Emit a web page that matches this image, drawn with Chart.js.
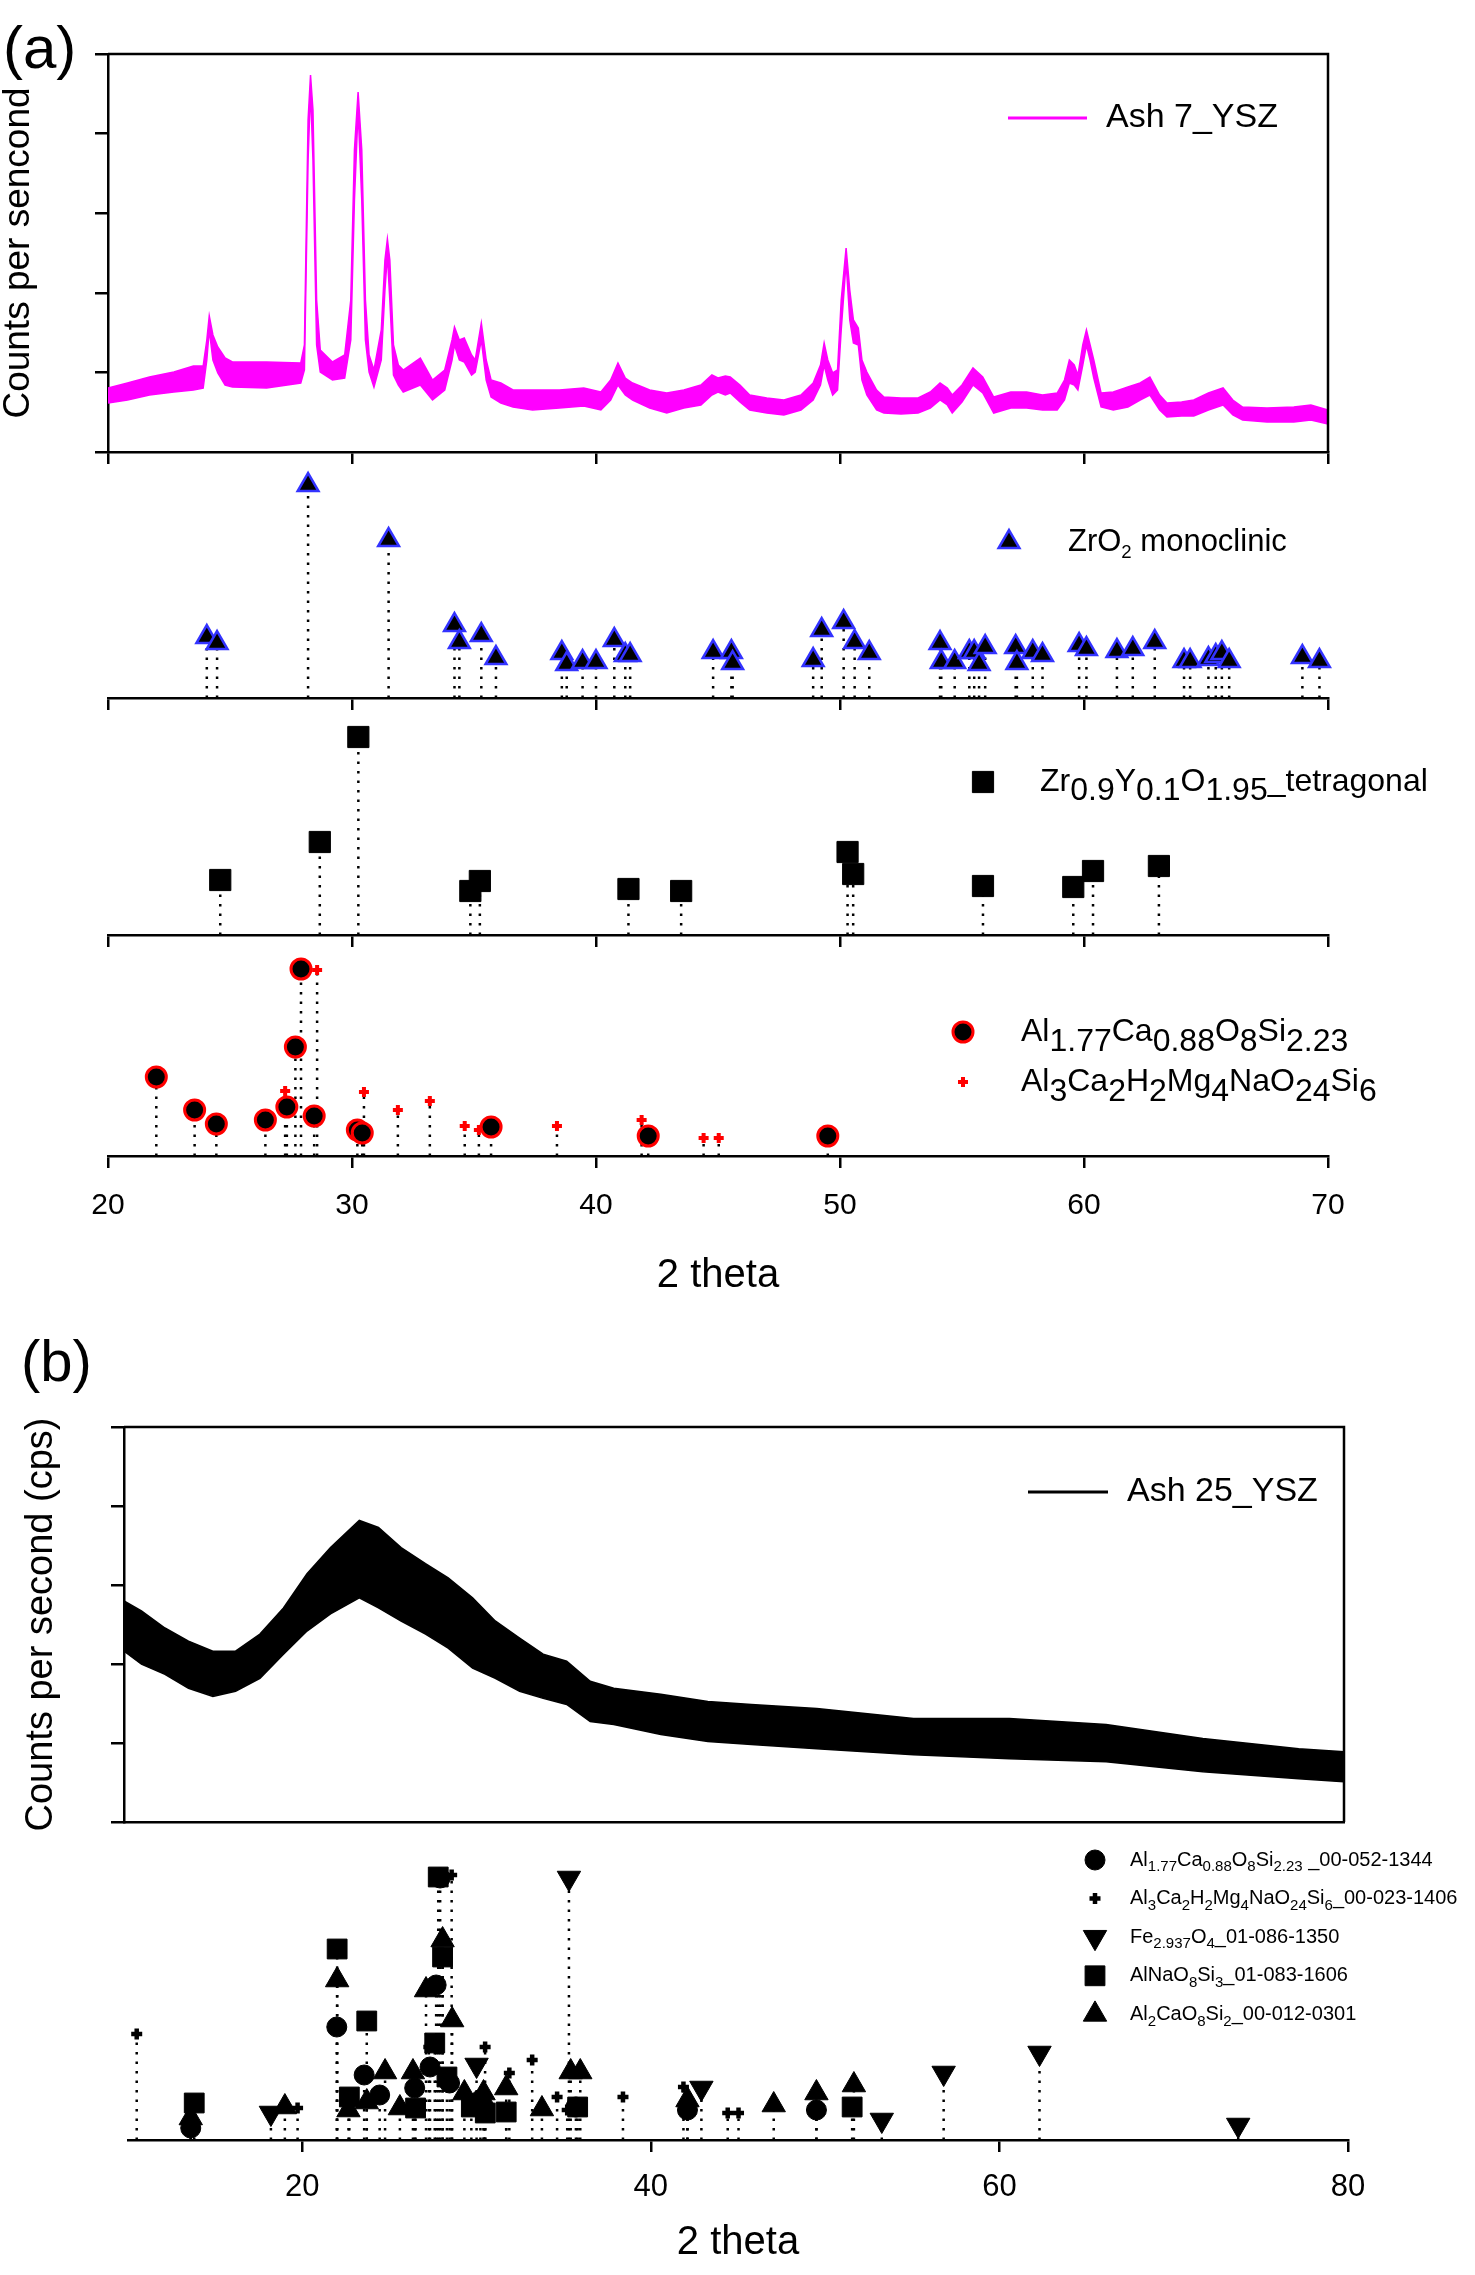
<!DOCTYPE html>
<html>
<head>
<meta charset="utf-8">
<script src="https://cdn.jsdelivr.net/npm/chart.js@4.4.1/dist/chart.umd.min.js"></script>
<style>
  body { margin: 0; background: #fff; }
  #page { position: relative; width: 1475px; height: 2275px; overflow: hidden; font-family: "Liberation Sans", Arial, sans-serif; }
  #page canvas { position: absolute; left: 0; }
  .tag { position: absolute; font-size: 60px; line-height: 60px; color: #000; }
</style>
</head>
<body>
<div id="page">
  <div class="tag" style="left:3px;top:18px">(a)</div>
  <div class="tag" style="left:21px;top:1331px;font-size:58px">(b)</div>
  <canvas id="a1" width="1475" height="520" style="top:0px"></canvas>
  <canvas id="a2" width="1475" height="260" style="top:460px"></canvas>
  <canvas id="a3" width="1475" height="237" style="top:720px"></canvas>
  <canvas id="a4" width="1475" height="365" style="top:935px"></canvas>
  <canvas id="b1" width="1475" height="520" style="top:1320px"></canvas>
  <canvas id="b2" width="1475" height="427" style="top:1840px"></canvas>
</div>
<script>
// ---- (a) Ash 7_YSZ scan: 2 theta and upper / lower edge of the noisy trace (cps, arbitrary)
const ash7Theta = [20.0, 20.8, 21.7, 22.7, 23.5, 23.9, 24.05, 24.15, 24.3, 24.5, 24.8, 25.1, 26.5, 27.9, 28.05, 28.2, 28.3, 28.4, 28.55, 28.7,
  29.2, 29.7, 29.95, 30.1, 30.25, 30.4, 30.55, 30.7, 30.9, 31.2, 31.35, 31.45, 31.55, 31.7, 31.9, 32.1, 32.8, 33.3, 33.8, 34.1,
  34.2, 34.4, 34.6, 34.9, 35.05, 35.3, 35.5, 35.7, 36.1, 36.6, 37.4, 38.5, 39.5, 40.2, 40.6, 40.9, 41.2, 41.5, 42.2, 42.9,
  43.6, 44.3, 44.75, 45.0, 45.3, 45.5, 45.9, 46.3, 47.0, 47.7, 48.4, 48.9, 49.2, 49.35, 49.5, 49.7, 49.9, 50.05, 50.25, 50.4,
  50.55, 50.75, 50.9, 51.1, 51.5, 51.8, 52.5, 53.2, 53.7, 54.1, 54.4, 54.6, 55.0, 55.45, 55.85, 56.3, 57.0, 57.65, 58.3, 58.9,
  59.2, 59.4, 59.6, 59.75, 59.95, 60.1, 60.25, 60.4, 60.7, 61.2, 61.8, 62.3, 62.7, 63.1, 63.4, 64.0, 64.5, 65.1, 65.7, 66.1,
  66.5, 67.5, 68.6, 69.3, 70.0];
const ash7High = [64, 69, 75, 80, 86, 86, 112, 136, 117, 105, 94, 90, 90, 89, 107, 332, 377, 342, 152, 102,
  90, 97, 152, 302, 360, 302, 152, 97, 82, 122, 192, 213, 192, 107, 87, 82, 94, 72, 82, 112,
  125, 112, 114, 97, 92, 129, 92, 72, 69, 62, 62, 62, 64, 60, 72, 89, 74, 69, 62, 59,
  62, 67, 77, 74, 76, 75, 67, 57, 54, 52, 57, 69, 87, 109, 92, 79, 82, 152, 204, 162,
  132, 124, 92, 80, 62, 55, 54, 54, 60, 69, 64, 57, 67, 84, 75, 55, 60, 60, 57, 59,
  72, 92, 87, 77, 107, 122, 107, 92, 59, 60, 65, 69, 75, 57, 49, 50, 52, 59, 64, 52,
  45, 44, 45, 47, 42];
const ash7Low = [49, 52, 57, 60, 62, 64, 92, 122, 92, 79, 67, 65, 64, 69, 82, 292, 362, 292, 107, 80,
  72, 74, 112, 252, 342, 252, 112, 80, 65, 92, 162, 197, 152, 77, 67, 60, 67, 52, 62, 92,
  107, 92, 90, 77, 80, 112, 72, 55, 49, 45, 42, 44, 46, 42, 52, 67, 57, 52, 44, 39,
  44, 47, 57, 60, 57, 59, 50, 42, 39, 37, 42, 52, 67, 87, 72, 57, 62, 122, 190, 132,
  109, 107, 72, 57, 42, 39, 38, 39, 44, 52, 47, 39, 50, 67, 59, 39, 44, 44, 42, 42,
  52, 69, 67, 62, 87, 107, 92, 74, 45, 42, 45, 52, 57, 42, 35, 36, 36, 42, 47, 37,
  32, 30, 30, 32, 28];

// ---- (a) reference patterns: peak position (2 theta) and relative intensity
const zro2Theta = [24.05, 24.47, 28.2, 31.5, 34.2, 34.4, 35.3, 35.9, 38.6, 38.8, 39.45, 40.0, 40.75, 41.2, 41.4, 44.8,
  45.55, 45.6, 48.9, 49.25, 50.15, 50.6, 51.2, 54.1, 54.15, 54.7, 55.3, 55.5, 55.7, 55.95, 57.2, 57.25,
  57.9, 58.3, 59.8, 60.1, 61.35, 62.0, 62.9, 64.1, 64.35, 65.1, 65.4, 65.65, 65.95, 68.95, 69.65];
const zro2Int = [61, 55, 213, 158, 73, 56, 63, 40, 45, 34, 36, 36, 58, 43, 43, 46,
  46, 35, 38, 68, 76, 56, 45, 55, 36, 36, 46, 46, 34, 51, 51, 35,
  46, 43, 53, 49, 47, 49, 56, 37, 37, 39, 42, 45, 37, 41, 37];
const tetraTheta = [24.6, 28.68, 30.26, 34.85, 35.24, 41.33, 43.49, 50.31, 50.54, 55.86, 59.56, 60.37, 63.07];
const tetraInt = [55, 93, 198, 44, 54, 46, 44, 83, 61, 49, 48, 64, 69];
const alCaTheta = [21.98, 23.55, 24.44, 26.45, 27.33, 27.68, 27.91, 28.45, 30.22, 30.42, 35.7, 42.14, 49.5];
const alCaInt = [79, 46, 32, 36, 49, 109, 187, 40, 26, 23, 29, 20, 20];
const alCaMgTheta = [27.26, 28.57, 30.49, 31.88, 33.19, 34.62, 35.2, 38.4, 41.87, 44.41, 45.03];
const alCaMgInt = [65, 186, 64, 46, 55, 30, 26, 30, 36, 18, 18];
const aTicks = [20, 30, 40, 50, 60, 70];

// ---- (b) Ash 25_YSZ scan
const ash25Theta = [10.0, 11.0, 12.35, 13.7, 15.1, 16.4, 17.8, 19.15, 20.5, 21.85, 23.5, 24.6, 25.9, 27.3, 28.6, 30.0,
  31.3, 32.7, 34.05, 35.4, 36.75, 38.1, 40.8, 43.5, 46.0, 49.75, 55.3, 60.8, 66.35, 71.9, 77.4, 80.0];
const ash25High = [220, 210, 193, 180, 170, 170, 187, 213, 247, 273, 300, 293, 273, 257, 243, 223,
  200, 183, 167, 160, 140, 133, 127, 120, 117, 113, 103, 103, 97, 83, 73, 70];
const ash25Low = [170, 157, 147, 133, 125, 130, 143, 167, 190, 207, 223, 213, 200, 187, 173, 153,
  143, 130, 123, 117, 100, 97, 87, 80, 77, 73, 67, 63, 60, 50, 43, 40];

// ---- (b) reference patterns
const bAlCaTheta = [13.6, 21.98, 23.55, 24.44, 26.45, 27.33, 27.68, 27.91, 28.45, 30.22, 30.42, 35.7, 42.1, 49.5];
const bAlCaInt = [12, 113, 65, 45, 52, 73, 155, 262, 57, 40, 33, 33, 30, 30];
const bAlCaMgTheta = [10.5, 19.73, 27.26, 28.57, 30.49, 31.88, 33.19, 34.62, 35.2, 38.4, 41.87, 44.41, 45.03];
const bAlCaMgInt = [106, 32, 93, 265, 93, 67, 80, 43, 30, 43, 53, 27, 27];
const bFeTheta = [18.2, 30.0, 35.3, 42.9, 53.25, 56.8, 62.3, 73.7];
const bFeInt = [27, 75, 262, 52, 20, 67, 87, 15];
const bAlNaTheta = [13.8, 22.0, 22.7, 23.7, 26.5, 27.6, 27.8, 28.05, 28.3, 29.7, 30.5, 31.7, 35.8, 51.55];
const bAlNaInt = [37, 191, 43, 119, 32, 97, 263, 183, 63, 33, 27, 28, 33, 33];
const bAl2CaTheta = [13.6, 19.0, 22.0, 22.65, 23.7, 24.75, 25.6, 26.35, 27.1, 28.05, 28.6, 29.3, 30.4, 31.7,
  33.75, 35.4, 35.95, 42.1, 47.05, 49.5, 51.65];
const bAl2CaInt = [22, 33, 160, 30, 38, 68, 32, 68, 150, 200, 120, 47, 47, 52, 31, 68, 68, 40, 35, 47, 55];
const bTicks = [20, 40, 60, 80];

const FONT = '"Liberation Sans", Arial, sans-serif';
Chart.defaults.font.family = FONT;
Chart.defaults.color = '#000';

// is a condensed face around for the (b) x title?
function hasNarrow() {
  const c = document.createElement('canvas').getContext('2d');
  c.font = '48px "Liberation Sans Narrow", monospace';
  const w = c.measureText('2 theta').width;
  c.font = '48px monospace';
  return Math.abs(w - c.measureText('2 theta').width) > 1;
}
const narrow = hasNarrow();

const pts = (xs, ys) => xs.map((x, i) => ({x: x, y: ys[i]}));

// vertical dotted stick from 0 to the peak, gaps between sticks
function stems(xs, ys) {
  const out = [];
  xs.forEach((x, i) => { out.push({x: x, y: 0}, {x: x, y: ys[i]}, {x: x, y: null}); });
  return out;
}

function phase(label, xs, ys, marker) {
  return [
    Object.assign({label: label, data: pts(xs, ys), showLine: false, clip: false, order: 0}, marker),
    {label: label, data: stems(xs, ys), showLine: true, pointRadius: 0, borderColor: '#000', borderWidth: 2.5,
      borderDash: [2.5, 7], spanGaps: false, clip: false, order: 1}
  ];
}

// text with _{...} subscripts
function drawFormula(ctx, text, x, y, size, subScale, subShift) {
  ctx.textBaseline = 'middle';
  ctx.textAlign = 'left';
  ctx.fillStyle = '#000';
  text.split(/(_\{[^}]*\})/).forEach(p => {
    if (!p) return;
    const sub = p.startsWith('_{');
    const s = sub ? p.slice(2, -1) : p;
    ctx.font = (sub ? size * subScale : size) + 'px ' + FONT;
    ctx.fillText(s, x, sub ? y + subShift : y);
    x += ctx.measureText(s).width;
  });
}

const formulaLegend = {
  id: 'formulaLegend',
  afterDatasetsDraw(chart, args, o) {
    if (!o.items) return;
    const ctx = chart.ctx;
    o.items.forEach((idx, row) => {
      const ds = chart.data.datasets[idx];
      const y = o.y + row * (o.gap || 0);
      ctx.save();
      if (o.line) {
        ctx.strokeStyle = ds.borderColor;
        ctx.lineWidth = 3;
        ctx.beginPath();
        ctx.moveTo(o.x, y);
        ctx.lineTo(o.x + o.line, y);
        ctx.stroke();
      } else {
        ctx.fillStyle = ds.backgroundColor;
        ctx.strokeStyle = ds.borderColor;
        ctx.lineWidth = ds.borderWidth;
        Chart.helpers.drawPoint(ctx, {pointStyle: ds.pointStyle, radius: ds.pointRadius,
          borderWidth: ds.borderWidth, rotation: ds.pointRotation || 0}, o.x, y);
      }
      drawFormula(ctx, ds.label, o.textX, y, o.size, o.subScale || 1, o.subShift || 0);
      ctx.restore();
    });
  }
};

// top and right edges of the plot box
const boxFrame = {
  id: 'boxFrame',
  afterDraw(chart, args, o) {
    if (!o.show) return;
    const a = chart.chartArea, ctx = chart.ctx;
    ctx.save();
    ctx.strokeStyle = '#000';
    ctx.lineWidth = 2.5;
    ctx.beginPath();
    ctx.moveTo(a.left, a.top);
    ctx.lineTo(a.right, a.top);
    ctx.lineTo(a.right, a.bottom);
    ctx.stroke();
    ctx.restore();
  }
};
Chart.register(formulaLegend, boxFrame);

const axisLine = {display: true, color: '#000', width: 2.5};
const tickGrid = {drawOnChartArea: false, drawTicks: true, tickLength: 12, lineWidth: 2.5, color: '#000'};

function bottomAxis(min, max, tickList, height, lab) {
  return {
    type: 'linear', position: 'bottom', min: min, max: max,
    afterBuildTicks: s => { s.ticks = tickList.map(v => ({value: v})); },
    afterFit: s => { s.height = height; },
    border: axisLine,
    grid: tickList.length ? tickGrid : {drawOnChartArea: false, drawTicks: false},
    ticks: lab ? {display: true, font: {size: lab.size}, padding: lab.pad, maxRotation: 0, autoSkip: false}
               : {display: false},
    title: lab ? {display: true, text: '2 theta', font: lab.titleFont, padding: 0} : {display: false}
  };
}

function leftAxis(max, width, title, size, pad) {
  return {
    type: 'linear', position: 'left', min: 0, max: max,
    afterBuildTicks: s => { s.ticks = [0, 1, 2, 3, 4, 5].map(i => ({value: i * max / 5})); },
    afterFit: s => { s.width = width; },
    border: axisLine,
    grid: Object.assign({}, tickGrid, {tickLength: 13}),
    ticks: {display: false},
    title: {display: true, text: title, font: {size: size, lineHeight: 1}, padding: {top: pad, bottom: 0}}
  };
}

function makeChart(id, datasets, scales, padding, plugins) {
  return new Chart(document.getElementById(id), {
    type: 'scatter',
    data: {datasets: datasets},
    options: {
      responsive: false, devicePixelRatio: 1, animation: false, events: [],
      layout: {padding: padding, autoPadding: false},
      scales: scales,
      plugins: Object.assign({legend: {display: false}, tooltip: {enabled: false}}, plugins)
    }
  });
}

const ash7Style = {showLine: true, pointRadius: 0, borderColor: '#ff00ff', backgroundColor: '#ff00ff', borderWidth: 1.5};
const ash25Style = {showLine: true, pointRadius: 0, borderColor: '#000', backgroundColor: '#000', borderWidth: 1.5};

// (a) measured pattern
makeChart('a1', [
  Object.assign({label: 'Ash 7_YSZ', data: pts(ash7Theta, ash7High)}, ash7Style),
  Object.assign({label: 'Ash 7_YSZ', data: pts(ash7Theta, ash7Low), fill: '-1'}, ash7Style)
], {
  x: bottomAxis(20, 70, aTicks, 68, null),
  y: leftAxis(398, 108, 'Counts per sencond', 37, 0)
}, {top: 54, right: 147, left: 0, bottom: 0}, {
  boxFrame: {show: true},
  formulaLegend: {items: [0], x: 1008, line: 79, y: 118, textX: 1106, size: 34}
});

// (a) ZrO2 monoclinic
makeChart('a2', phase('ZrO_{2} monoclinic', zro2Theta, zro2Int,
  {pointStyle: 'triangle', pointRadius: 12, backgroundColor: '#000', borderColor: '#3333ff', borderWidth: 2.5}), {
  x: bottomAxis(20, 70, aTicks, 22, null),
  y: {display: false, min: 0, max: 238}
}, {top: 0, right: 147, left: 108, bottom: 0}, {
  formulaLegend: {items: [0], x: 1009, y: 82, textX: 1068, size: 31, subScale: 0.6, subShift: 11}
});

// (a) tetragonal YSZ
makeChart('a3', phase('Zr_{0.9}Y_{0.1}O_{1.95}_tetragonal', tetraTheta, tetraInt,
  {pointStyle: 'rect', pointRadius: 15, backgroundColor: '#000', borderColor: '#000', borderWidth: 1}), {
  x: bottomAxis(20, 70, aTicks, 22, null),
  y: {display: false, min: 0, max: 215}
}, {top: 0, right: 147, left: 108, bottom: 0}, {
  formulaLegend: {items: [0], x: 983, y: 62, textX: 1040, size: 32, subScale: 1, subShift: 9}
});

// (a) aluminosilicates
makeChart('a4', [].concat(
  phase('Al_{1.77}Ca_{0.88}O_{8}Si_{2.23}', alCaTheta, alCaInt,
    {pointStyle: 'circle', pointRadius: 10, backgroundColor: '#000', borderColor: '#ff0000', borderWidth: 3}),
  phase('Al_{3}Ca_{2}H_{2}Mg_{4}NaO_{24}Si_{6}', alCaMgTheta, alCaMgInt,
    {pointStyle: 'cross', pointRadius: 5, backgroundColor: '#ff0000', borderColor: '#ff0000', borderWidth: 4})
), {
  x: bottomAxis(20, 70, aTicks, 144, {size: 30, pad: 20, titleFont: {size: 40, lineHeight: 1.2}}),
  y: {display: false, min: 0, max: 221}
}, {top: 0, right: 147, left: 108, bottom: 0}, {
  formulaLegend: {items: [0, 2], x: 963, y: 97, gap: 50, textX: 1021, size: 32, subScale: 1, subShift: 10}
});

// (b) measured pattern
makeChart('b1', [
  Object.assign({label: 'Ash 25_YSZ', data: pts(ash25Theta, ash25High)}, ash25Style),
  Object.assign({label: 'Ash 25_YSZ', data: pts(ash25Theta, ash25Low), fill: '-1'}, ash25Style)
], {
  x: bottomAxis(10, 80, [], 18, null),
  y: leftAxis(393, 124, 'Counts per second (cps)', 38, 23)
}, {top: 107, right: 131, left: 0, bottom: 0}, {
  boxFrame: {show: true},
  formulaLegend: {items: [0], x: 1028, line: 80, y: 172, textX: 1127, size: 34}
});

// (b) reference patterns
const black = {backgroundColor: '#000', borderColor: '#000', borderWidth: 1};
makeChart('b2', [].concat(
  phase('Al_{1.77}Ca_{0.88}O_{8}Si_{2.23} _00-052-1344', bAlCaTheta, bAlCaInt,
    Object.assign({pointStyle: 'circle', pointRadius: 10}, black)),
  phase('Al_{3}Ca_{2}H_{2}Mg_{4}NaO_{24}Si_{6}_00-023-1406', bAlCaMgTheta, bAlCaMgInt,
    {pointStyle: 'cross', pointRadius: 5.5, backgroundColor: '#000', borderColor: '#000', borderWidth: 4.5}),
  phase('Fe_{2.937}O_{4}_01-086-1350', bFeTheta, bFeInt,
    Object.assign({pointStyle: 'triangle', pointRadius: 13.5, pointRotation: 180}, black)),
  phase('AlNaO_{8}Si_{3}_01-083-1606', bAlNaTheta, bAlNaInt,
    Object.assign({pointStyle: 'rect', pointRadius: 14}, black)),
  phase('Al_{2}CaO_{8}Si_{2}_00-012-0301', bAl2CaTheta, bAl2CaInt,
    Object.assign({pointStyle: 'triangle', pointRadius: 13.5}, black))
), {
  x: bottomAxis(10, 80, bTicks, 127, {size: 31, pad: 17,
    titleFont: narrow ? {family: '"Liberation Sans Narrow", ' + FONT, size: 48, lineHeight: 1} : {size: 40, lineHeight: 1.2}}),
  y: {display: false, min: 0, max: 300}
}, {top: 0, right: 127, left: 128, bottom: 0}, {
  formulaLegend: {items: [0, 2, 4, 6, 8], x: 1095, y: 20, gap: 38.6, textX: 1130, size: 20, subScale: 0.75, subShift: 7}
});
</script>
</body>
</html>
